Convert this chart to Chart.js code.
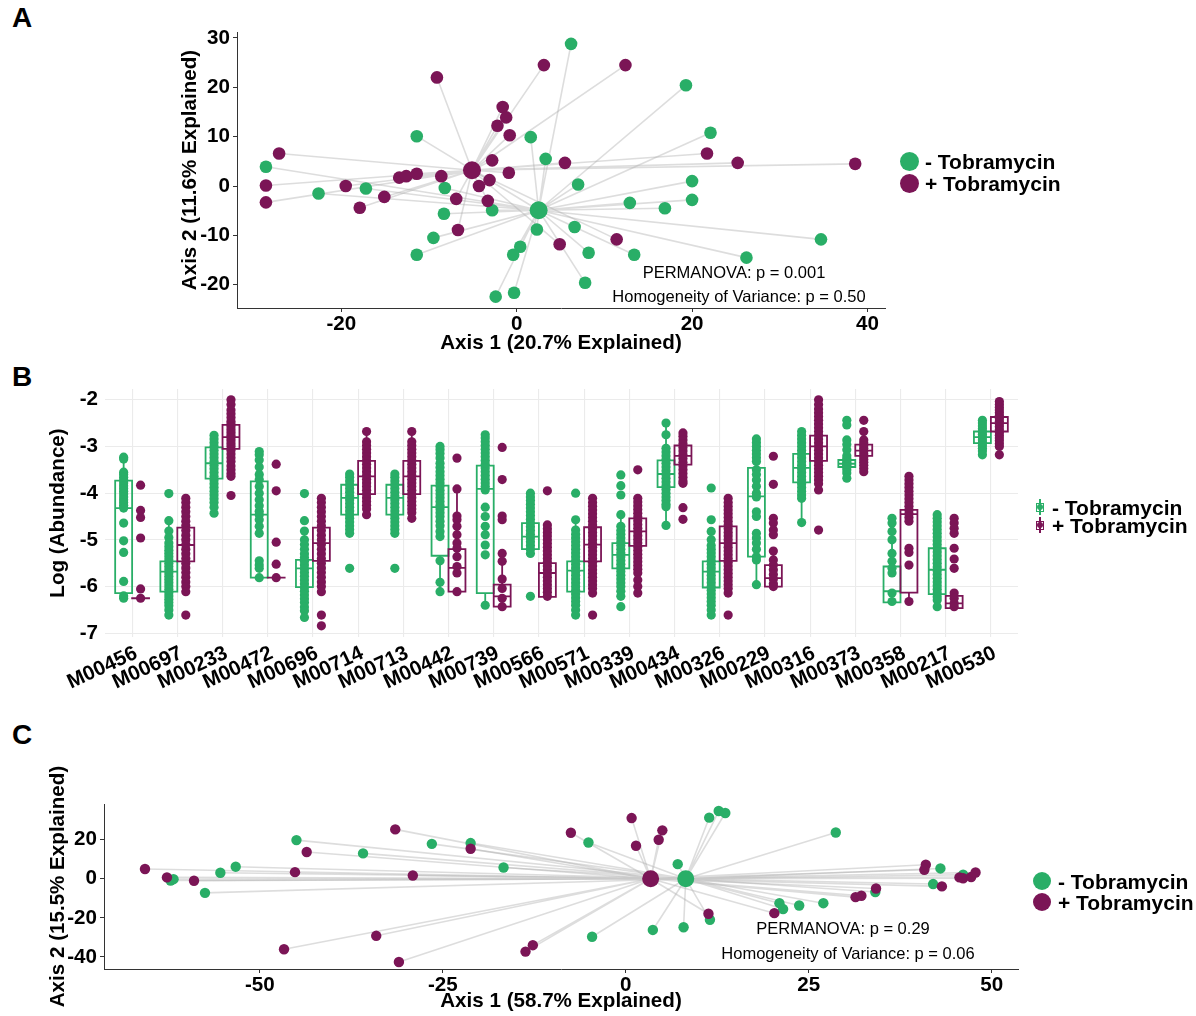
<!DOCTYPE html>
<html>
<head>
<meta charset="utf-8">
<script src="https://cdn.jsdelivr.net/npm/chart.js@4.4.1/dist/chart.umd.min.js"></script>
<style>
  body { margin: 0; background: #fff; }
  #page { position: relative; width: 1196px; height: 1016px; font-family: "Liberation Sans", Arial, sans-serif; color: #000; }
  canvas { position: absolute; left: 0; }
  .tag { position: absolute; font-weight: bold; font-size: 28px; line-height: 1; }
  .note { position: absolute; font-size: 16.5px; line-height: 1; white-space: nowrap; transform: translate(-50%, -50%); }
  .key { position: absolute; display: flex; align-items: center; height: 22px; font-weight: bold; font-size: 21px; line-height: 1; white-space: nowrap; }
  .dot { display: inline-block; border-radius: 50%; }
  .bkey { position: relative; width: 8px; height: 9px; box-sizing: border-box; border: 1.5px solid currentColor; margin-right: 8px; }
  .bkey::before { content: ''; position: absolute; left: 50%; top: -5px; height: 16px; width: 1.4px; margin-left: -0.7px; background: currentColor; }
  .bkey::after { content: ''; position: absolute; left: 50%; top: 50%; width: 6px; height: 6px; margin: -3px 0 0 -3px; border-radius: 50%; background: currentColor; }
</style>
</head>
<body>
<div id="page">
  <div class="tag" style="left:12px; top:4px">A</div>
  <div class="tag" style="left:12px; top:363px">B</div>
  <div class="tag" style="left:12px; top:721px">C</div>

  <canvas id="chartA" width="1196" height="360" style="top:0"></canvas>
  <canvas id="chartB" width="1196" height="340" style="top:360px"></canvas>
  <canvas id="chartC" width="1196" height="316" style="top:700px"></canvas>

  <div class="note" style="left:734px; top:272px">PERMANOVA: p = 0.001</div>
  <div class="note" style="left:739px; top:296px">Homogeneity of Variance: p = 0.50</div>
  <div class="note" style="left:843px; top:928px">PERMANOVA: p = 0.29</div>
  <div class="note" style="left:848px; top:953px">Homogeneity of Variance: p = 0.06</div>

  <div class="key" style="left:900px; top:150px"><span class="dot" style="width:19px;height:19px;background:#29AE67;margin-right:6px"></span>- Tobramycin</div>
  <div class="key" style="left:900px; top:172px"><span class="dot" style="width:19px;height:19px;background:#7B1556;margin-right:6px"></span>+ Tobramycin</div>

  <div class="key" style="left:1036px; top:496px"><span class="bkey" style="color:#29AE67"></span>- Tobramycin</div>
  <div class="key" style="left:1036px; top:514px"><span class="bkey" style="color:#7B1556"></span>+ Tobramycin</div>

  <div class="key" style="left:1033px; top:870px"><span class="dot" style="width:18px;height:18px;background:#29AE67;margin-right:7px"></span>- Tobramycin</div>
  <div class="key" style="left:1033px; top:891px"><span class="dot" style="width:18px;height:18px;background:#7B1556;margin-right:7px"></span>+ Tobramycin</div>
</div>

<script>
// PCoA (panel A)
var aMinusX = [-28.6,-22.6,-17.2,-11.4,-8.2,-8.3,-2.8,-9.5,-11.4,1.6,2.3,0.4,-0.4,-2.4,-0.3,6.2,19.3,3.3,22.1,7.0,20.0,20.0,12.9,16.9,6.6,8.2,13.4,26.2,34.7,7.8];
var aMinusY = [3.9,-1.5,-0.5,10.1,-0.4,-5.6,-4.9,-10.5,-13.9,9.9,-8.8,-12.3,-13.9,-22.4,-21.6,28.8,20.4,5.5,10.8,0.3,1.0,-2.8,-3.4,-4.5,-8.3,-13.5,-13.9,-14.5,-10.8,-19.6];
var aPlusX = [-27.1,-28.6,-28.6,-19.5,-17.9,-15.1,-13.4,-12.6,-11.4,-8.6,-9.1,-1.6,-1.2,-2.2,-0.8,-2.8,-0.9,-3.1,-4.3,-6.9,-3.3,-6.7,3.1,12.4,5.5,21.7,25.2,38.6,4.9,11.4];
var aPlusY = [6.6,0.1,-3.3,0,-4.4,-2.2,1.7,2.0,2.5,2.0,22.0,16.0,13.9,12.2,10.3,5.2,2.7,1.2,0,-2.6,-3.0,-8.9,24.5,24.5,4.7,6.6,4.7,4.5,-11.8,-10.8];
var aMinusCentroid = [2.5, -4.9];
var aPlusCentroid = [-5.1, 3.2];

// PCoA (panel C)
var cMinusX = [-62.2,-61.8,-57.5,-55.4,-53.3,-45.0,-35.9,-26.5,-21.2,-16.7,-5.1,-4.6,3.7,7.1,7.9,11.4,12.7,13.6,11.5,21.0,21.5,23.7,27.0,28.7,34.1,43.0,42.0,46.1];
var cMinusY = [-0.9,-0.2,-7.2,3.1,6.2,19.8,13.0,17.9,18.3,5.8,18.6,-29.7,-26.2,7.5,-24.8,31.3,34.7,33.7,-21.0,-12.5,-15.5,-13.7,-12.5,23.7,-6.8,5.3,-2.7,2.1];
var cPlusX = [-65.7,-62.7,-59.0,-45.2,-43.6,-31.5,-29.1,-21.2,-34.1,-46.7,-31.0,-13.7,-12.7,-7.5,0.8,1.4,4.5,5.0,11.3,20.3,31.4,32.2,34.2,41.0,40.8,43.2,45.6,46.1,47.2,47.8];
var cPlusY = [5.0,0.7,-1.0,3.4,13.7,25.3,1.7,15.4,-29.2,-36.1,-42.6,-37.3,-34.0,23.6,31.1,16.9,20.0,24.8,-17.9,-17.6,-9.4,-8.7,-5.0,7.2,4.6,-3.9,0.7,0.3,0.9,3.2];
var cMinusCentroid = [8.2, 0];
var cPlusCentroid = [3.4, 0];

// module abundances (panel B)
var modules = ['M00456','M00697','M00233','M00472','M00696','M00714','M00713','M00442','M00739','M00566','M00571','M00339','M00434','M00326','M00229','M00316','M00373','M00358','M00217','M00530'];
var bYTicks = [-7,-6.5,-6,-5.5,-5,-4.5,-4,-3.5,-3,-2.5,-2];

var minusLow  = [-6.25,-6.61,-4.43,-5.81,-6.66,-4.86,-4.86,-6.11,-6.40,-5.29,-6.61,-6.21,-4.69,-6.61,-5.96,-4.63,-3.57,-6.34,-6.43,-3.18];
var minusQ1   = [-6.14,-6.11,-3.69,-5.81,-6.01,-4.46,-4.46,-5.34,-6.14,-5.20,-6.11,-5.61,-3.87,-6.02,-5.36,-3.77,-3.44,-6.34,-6.16,-2.93];
var minusMed  = [-4.32,-5.68,-3.36,-4.46,-5.61,-4.10,-4.10,-4.30,-3.91,-4.93,-5.66,-5.32,-3.59,-5.68,-4.07,-3.46,-3.37,-6.10,-5.64,-2.80];
var minusQ3   = [-3.73,-5.46,-3.02,-3.75,-5.43,-3.82,-3.82,-3.84,-3.41,-4.64,-5.46,-5.07,-3.30,-5.46,-3.46,-3.16,-3.29,-5.57,-5.18,-2.68];
var minusHigh = [-3.23,-4.59,-2.76,-3.11,-4.81,-3.59,-3.59,-3.00,-2.75,-4.00,-4.57,-4.46,-2.50,-4.82,-2.84,-2.68,-3.20,-4.54,-4.46,-2.44];

var plusLow  = [-6.25,-6.11,-3.64,-5.81,-6.11,-4.46,-4.54,-6.11,-6.43,-6.22,-6.14,-5.73,-3.79,-6.14,-6.00,-3.93,-3.54,-6.32,-6.46,-3.00];
var plusQ1   = [-6.25,-5.46,-3.05,-5.81,-5.45,-4.02,-4.02,-6.11,-6.43,-6.22,-5.46,-5.13,-3.39,-5.45,-6.00,-3.31,-3.20,-6.13,-6.46,-2.68];
var plusMed  = [-6.25,-5.11,-2.80,-5.81,-5.07,-3.64,-3.64,-5.60,-6.21,-5.71,-5.10,-4.82,-3.20,-5.07,-5.82,-3.00,-3.09,-4.45,-6.36,-2.50];
var plusQ3   = [-6.25,-4.74,-2.54,-5.81,-4.74,-3.31,-3.31,-5.20,-5.96,-5.50,-4.73,-4.54,-2.98,-4.71,-5.54,-2.77,-2.96,-4.36,-6.20,-2.37];
var plusHigh = [-6.25,-4.11,-2.00,-5.81,-4.11,-2.68,-2.68,-3.91,-5.29,-4.68,-4.11,-4.11,-2.71,-4.11,-5.24,-2.00,-2.68,-3.64,-6.14,-2.04];

var minusPts = [
  [-3.23,-3.27,-3.55,-3.6,-3.66,-3.72,-3.78,-3.84,-3.9,-3.96,-4.02,-4.08,-4.14,-4.2,-4.26,-4.32,-4.64,-5.02,-5.27,-5.89,-6.2,-6.25],
  [-4.01,-4.59,-4.81,-4.95,-5.07,-5.15,-5.22,-5.29,-5.36,-5.43,-5.5,-5.57,-5.64,-5.71,-5.78,-5.85,-5.92,-5.99,-6.06,-6.13,-6.2,-6.27,-6.34,-6.41,-6.5,-6.61],
  [-2.76,-2.84,-2.92,-3.0,-3.08,-3.16,-3.24,-3.32,-3.4,-3.48,-3.56,-3.64,-3.72,-3.8,-3.88,-3.96,-4.04,-4.12,-4.2,-4.3,-4.43],
  [-3.11,-3.18,-3.29,-3.44,-3.6,-3.71,-3.86,-4.0,-4.14,-4.27,-4.39,-4.46,-4.57,-4.71,-4.86,-5.45,-5.54,-5.61,-5.81],
  [-4.01,-4.59,-4.81,-5.0,-5.1,-5.2,-5.3,-5.38,-5.46,-5.54,-5.62,-5.7,-5.78,-5.86,-5.94,-6.02,-6.1,-6.18,-6.26,-6.34,-6.44,-6.52,-6.66],
  [-3.59,-3.66,-3.74,-3.82,-3.9,-3.98,-4.06,-4.14,-4.22,-4.3,-4.38,-4.46,-4.54,-4.62,-4.7,-4.78,-4.86,-5.61],
  [-3.59,-3.66,-3.74,-3.82,-3.9,-3.98,-4.06,-4.14,-4.22,-4.3,-4.38,-4.46,-4.54,-4.62,-4.7,-4.78,-4.86,-5.61],
  [-3.0,-3.07,-3.15,-3.25,-3.36,-3.45,-3.54,-3.62,-3.7,-3.78,-3.86,-3.94,-4.02,-4.1,-4.18,-4.26,-4.34,-4.42,-4.5,-4.6,-4.7,-4.82,-4.93,-5.45,-5.91,-6.11],
  [-2.75,-2.82,-2.9,-2.98,-3.06,-3.14,-3.22,-3.3,-3.38,-3.46,-3.54,-3.62,-3.7,-3.78,-3.86,-3.93,-4.3,-4.5,-4.71,-4.89,-5.11,-5.32,-6.4],
  [-4.0,-4.08,-4.16,-4.24,-4.32,-4.4,-4.48,-4.56,-4.64,-4.72,-4.8,-4.88,-4.96,-5.04,-5.12,-5.2,-5.29,-6.21],
  [-4.0,-4.57,-4.79,-4.88,-4.96,-5.04,-5.12,-5.2,-5.28,-5.36,-5.44,-5.52,-5.6,-5.68,-5.76,-5.84,-5.92,-6.0,-6.08,-6.16,-6.24,-6.32,-6.4,-6.5,-6.61],
  [-3.61,-3.84,-4.04,-4.46,-4.71,-4.8,-4.88,-4.96,-5.04,-5.12,-5.2,-5.28,-5.36,-5.44,-5.52,-5.6,-5.68,-5.76,-5.84,-5.92,-6.0,-6.1,-6.21,-6.43],
  [-2.5,-2.75,-3.04,-3.12,-3.2,-3.28,-3.36,-3.44,-3.52,-3.6,-3.68,-3.76,-3.84,-3.92,-4.0,-4.08,-4.16,-4.24,-4.29,-4.69],
  [-3.89,-4.57,-4.82,-5.0,-5.12,-5.2,-5.28,-5.36,-5.44,-5.52,-5.6,-5.68,-5.76,-5.84,-5.92,-6.0,-6.08,-6.16,-6.24,-6.32,-6.4,-6.5,-6.61],
  [-2.84,-2.92,-3.0,-3.08,-3.16,-3.24,-3.32,-3.5,-3.6,-3.72,-3.85,-4.0,-4.08,-4.4,-4.5,-4.86,-4.96,-5.07,-5.2,-5.36,-5.43,-5.96],
  [-2.68,-2.76,-2.84,-2.92,-3.0,-3.08,-3.16,-3.24,-3.32,-3.4,-3.48,-3.56,-3.64,-3.72,-3.8,-3.88,-3.96,-4.04,-4.11,-4.63],
  [-2.44,-2.54,-2.86,-2.96,-3.07,-3.2,-3.26,-3.3,-3.34,-3.37,-3.4,-3.44,-3.5,-3.57,-3.68],
  [-4.54,-4.64,-4.82,-5.0,-5.29,-5.46,-5.61,-5.71,-6.14,-6.32],
  [-4.46,-4.54,-4.62,-4.7,-4.78,-4.86,-4.94,-5.02,-5.1,-5.18,-5.26,-5.34,-5.42,-5.5,-5.58,-5.66,-5.74,-5.82,-5.9,-5.98,-6.06,-6.14,-6.22,-6.29,-6.43],
  [-2.44,-2.5,-2.56,-2.62,-2.68,-2.74,-2.8,-2.86,-2.92,-2.98,-3.04,-3.1,-3.18]
];
var plusPts = [
  [-3.83,-4.37,-4.52,-4.96,-6.05,-6.25],
  [-4.11,-4.2,-4.3,-4.4,-4.5,-4.6,-4.7,-4.8,-4.9,-5.0,-5.1,-5.2,-5.3,-5.4,-5.5,-5.6,-5.7,-5.8,-5.9,-6.0,-6.11,-6.61],
  [-2.0,-2.1,-2.22,-2.3,-2.38,-2.46,-2.52,-2.58,-2.64,-2.7,-2.76,-2.82,-2.88,-2.94,-3.0,-3.08,-3.16,-3.24,-3.32,-3.42,-3.5,-3.58,-3.64,-4.05],
  [-3.38,-3.95,-5.05,-5.52,-5.81],
  [-4.11,-4.2,-4.3,-4.4,-4.5,-4.6,-4.7,-4.8,-4.9,-5.0,-5.1,-5.2,-5.3,-5.4,-5.5,-5.6,-5.7,-5.8,-5.9,-6.0,-6.11,-6.61,-6.84],
  [-2.68,-2.9,-2.98,-3.06,-3.14,-3.22,-3.3,-3.38,-3.46,-3.54,-3.62,-3.7,-3.78,-3.86,-3.94,-4.02,-4.1,-4.18,-4.26,-4.34,-4.46],
  [-2.68,-2.9,-2.98,-3.06,-3.14,-3.22,-3.3,-3.38,-3.46,-3.54,-3.62,-3.7,-3.78,-3.86,-3.94,-4.02,-4.1,-4.18,-4.26,-4.34,-4.42,-4.54],
  [-3.25,-3.91,-4.49,-4.57,-4.71,-4.89,-5.07,-5.18,-5.36,-5.57,-5.71,-6.11],
  [-3.02,-3.71,-4.49,-4.57,-5.29,-5.46,-5.84,-6.04,-6.25,-6.43],
  [-3.95,-4.68,-4.76,-4.84,-4.92,-5.0,-5.08,-5.16,-5.24,-5.32,-5.4,-5.48,-5.56,-5.64,-5.72,-5.8,-5.88,-5.96,-6.04,-6.12,-6.21],
  [-4.11,-4.2,-4.28,-4.36,-4.44,-4.52,-4.6,-4.68,-4.76,-4.84,-4.92,-5.0,-5.08,-5.16,-5.24,-5.32,-5.4,-5.48,-5.56,-5.64,-5.72,-5.8,-5.88,-5.96,-6.04,-6.14,-6.61],
  [-3.5,-4.11,-4.19,-4.27,-4.35,-4.43,-4.51,-4.59,-4.67,-4.75,-4.83,-4.91,-4.99,-5.07,-5.15,-5.23,-5.31,-5.39,-5.47,-5.55,-5.63,-5.71,-5.86,-6.0,-6.14],
  [-2.71,-2.78,-2.86,-2.94,-3.02,-3.1,-3.18,-3.26,-3.34,-3.42,-3.5,-3.58,-3.66,-3.74,-3.79,-4.31,-4.56],
  [-4.11,-4.2,-4.28,-4.36,-4.44,-4.52,-4.6,-4.68,-4.76,-4.84,-4.92,-5.0,-5.08,-5.16,-5.24,-5.32,-5.4,-5.48,-5.56,-5.64,-5.72,-5.8,-5.88,-5.96,-6.04,-6.14,-6.61],
  [-3.21,-3.81,-4.54,-4.64,-4.79,-4.89,-5.24,-5.43,-5.54,-5.64,-5.74,-5.84,-5.94,-6.0],
  [-2.0,-2.1,-2.2,-2.28,-2.36,-2.44,-2.52,-2.6,-2.68,-2.76,-2.84,-2.92,-3.0,-3.08,-3.16,-3.24,-3.32,-3.4,-3.48,-3.56,-3.64,-3.72,-3.8,-3.93,-4.79],
  [-2.44,-2.68,-2.86,-2.92,-2.98,-3.04,-3.1,-3.16,-3.22,-3.28,-3.34,-3.4,-3.47,-3.54],
  [-3.64,-3.72,-3.8,-3.88,-3.96,-4.04,-4.12,-4.2,-4.28,-4.36,-4.44,-4.52,-4.6,-5.18,-5.27,-5.54,-6.32],
  [-4.54,-4.64,-4.75,-4.86,-5.18,-5.41,-5.61,-6.14,-6.25,-6.36,-6.43],
  [-2.04,-2.1,-2.16,-2.22,-2.28,-2.34,-2.4,-2.46,-2.52,-2.58,-2.64,-2.7,-2.76,-2.82,-2.88,-2.94,-3.0,-3.18]
];

var GREEN = '#29AE67';
var PURPLE = '#7B1556';
var SPOKE = 'rgba(175,175,175,0.42)';
var boldFont = { family: '"Liberation Sans", Arial, sans-serif', size: 20.6, weight: 'bold' };

Chart.defaults.font.family = '"Liberation Sans", Arial, sans-serif';
Chart.defaults.color = '#000';

function toPoints(xs, ys) {
  return xs.map(function (x, i) { return { x: x, y: ys[i] }; });
}

// every sample joined to its group centroid, broken by empty points
function spokes(xs, ys, c) {
  var out = [];
  xs.forEach(function (x, i) {
    out.push({ x: x, y: ys[i] }, { x: c[0], y: c[1] }, { x: null, y: null });
  });
  return out;
}

function axisOpts(min, max, ticks, title, size, titleGap) {
  return {
    type: 'linear', min: min, max: max,
    afterBuildTicks: function (s) { s.ticks = ticks.map(function (v) { return { value: v }; }); },
    afterFit: function (s) { if (s.isHorizontal()) s.height = size; else s.width = size; },
    grid: { display: true, drawOnChartArea: false, drawTicks: true, tickLength: 4, color: '#333', lineWidth: 1 },
    border: { display: true, color: '#333', width: 1 },
    ticks: { font: boldFont, color: '#000', padding: titleGap === undefined ? 3 : 0 },
    title: { display: true, text: title, font: boldFont, color: '#000',
             padding: { top: 4, bottom: titleGap === undefined ? 4 : titleGap } }
  };
}

function pcoaChart(id, mx, my, px, py, mc, pc, r, cr, xAxis, yAxis, pad) {
  return new Chart(document.getElementById(id), {
    type: 'scatter',
    data: {
      datasets: [
        { data: [{ x: mc[0], y: mc[1] }], backgroundColor: GREEN, pointRadius: cr, borderWidth: 0, order: 0 },
        { data: [{ x: pc[0], y: pc[1] }], backgroundColor: PURPLE, pointRadius: cr, borderWidth: 0, order: 1 },
        { data: toPoints(px, py), backgroundColor: PURPLE, pointRadius: r, borderWidth: 0, order: 2 },
        { data: toPoints(mx, my), backgroundColor: GREEN, pointRadius: r, borderWidth: 0, order: 3 },
        { data: spokes(mx, my, mc), showLine: true, spanGaps: false, pointRadius: 0, borderColor: SPOKE, borderWidth: 1.6, order: 4 },
        { data: spokes(px, py, pc), showLine: true, spanGaps: false, pointRadius: 0, borderColor: SPOKE, borderWidth: 1.6, order: 5 }
      ]
    },
    options: {
      responsive: false, animation: false, devicePixelRatio: 1,
      layout: { padding: pad },
      plugins: { legend: { display: false }, tooltip: { enabled: false } },
      scales: { x: xAxis, y: yAxis }
    }
  });
}

pcoaChart('chartA', aMinusX, aMinusY, aPlusX, aPlusY, aMinusCentroid, aPlusCentroid, 6.3, 9,
  axisOpts(-31.9, 42, [-20, 0, 20, 40], 'Axis 1 (20.7% Explained)', 52, 4),
  axisOpts(-24.7, 31.2, [-20, -10, 0, 10, 20, 30], 'Axis 2 (11.6% Explained)', 63),
  { left: 174, right: 311, top: 32, bottom: 0 });

pcoaChart('chartC', cMinusX, cMinusY, cPlusX, cPlusY, cMinusCentroid, cPlusCentroid, 5.2, 8.5,
  axisOpts(-71.3, 53.6, [-50, -25, 0, 25, 50], 'Axis 1 (58.7% Explained)', 47, 2),
  axisOpts(-46.2, 38.3, [-40, -20, 0, 20], 'Axis 2 (15.5% Explained)', 62),
  { left: 42, right: 178, top: 104, bottom: 0 });

// boxplots: outline, median and whiskers as one broken polyline per group
var DODGE = 0.1875, HALF = 0.1875;
function boxLines(off, lo, q1, med, q3, hi) {
  var out = [];
  modules.forEach(function (m, i) {
    var l = i + off - HALF, r = i + off + HALF, c = i + off;
    out.push(
      { x: l, y: q1[i] }, { x: r, y: q1[i] }, { x: r, y: q3[i] }, { x: l, y: q3[i] }, { x: l, y: q1[i] }, { x: null, y: null },
      { x: l, y: med[i] }, { x: r, y: med[i] }, { x: null, y: null },
      { x: c, y: q3[i] }, { x: c, y: hi[i] }, { x: null, y: null },
      { x: c, y: q1[i] }, { x: c, y: lo[i] }, { x: null, y: null }
    );
  });
  return out;
}
function columnPoints(off, pts) {
  var out = [];
  pts.forEach(function (vals, i) {
    vals.forEach(function (v) { out.push({ x: i + off, y: v }); });
  });
  return out;
}

new Chart(document.getElementById('chartB'), {
  type: 'scatter',
  data: {
    datasets: [
      { data: columnPoints(DODGE, plusPts), backgroundColor: PURPLE, pointRadius: 4.6, borderWidth: 0, order: 0 },
      { data: columnPoints(-DODGE, minusPts), backgroundColor: GREEN, pointRadius: 4.6, borderWidth: 0, order: 1 },
      { data: boxLines(DODGE, plusLow, plusQ1, plusMed, plusQ3, plusHigh), showLine: true, spanGaps: false, pointRadius: 0,
        borderColor: PURPLE, borderWidth: 1.8, borderJoinStyle: 'miter', borderCapStyle: 'square', order: 2 },
      { data: boxLines(-DODGE, minusLow, minusQ1, minusMed, minusQ3, minusHigh), showLine: true, spanGaps: false, pointRadius: 0,
        borderColor: GREEN, borderWidth: 1.8, borderJoinStyle: 'miter', borderCapStyle: 'square', order: 3 }
    ]
  },
  options: {
    responsive: false, animation: false, devicePixelRatio: 1,
    layout: { padding: { left: 42, right: 178, top: 29, bottom: 0 } },
    plugins: { legend: { display: false }, tooltip: { enabled: false } },
    scales: {
      x: {
        type: 'linear', min: -0.6, max: 19.6,
        afterBuildTicks: function (s) { s.ticks = modules.map(function (m, i) { return { value: i }; }); },
        afterFit: function (s) { s.height = 63; },
        grid: { color: '#ebebeb', lineWidth: 1.1, drawTicks: false },
        border: { display: false },
        ticks: { font: boldFont, color: '#000', autoSkip: false, minRotation: 25, maxRotation: 25, padding: 4, labelOffset: 4,
                 callback: function (v) { return modules[v]; } }
      },
      y: {
        type: 'linear', min: -7.08, max: -1.77,
        afterBuildTicks: function (s) { s.ticks = bYTicks.map(function (v) { return { value: v }; }); },
        afterFit: function (s) { s.width = 63; },
        grid: {
          drawTicks: false,
          color: function (ctx) { return Number.isInteger(ctx.tick.value) ? '#ebebeb' : '#f4f4f4'; },
          lineWidth: function (ctx) { return Number.isInteger(ctx.tick.value) ? 1.1 : 0.8; }
        },
        border: { display: false },
        ticks: { font: boldFont, color: '#000', padding: 7,
                 callback: function (v) { return Number.isInteger(v) ? v : ''; } },
        title: { display: true, text: 'Log (Abundance)', font: boldFont, color: '#000', padding: { top: 4, bottom: 4 } }
      }
    }
  }
});
</script>
</body>
</html>
